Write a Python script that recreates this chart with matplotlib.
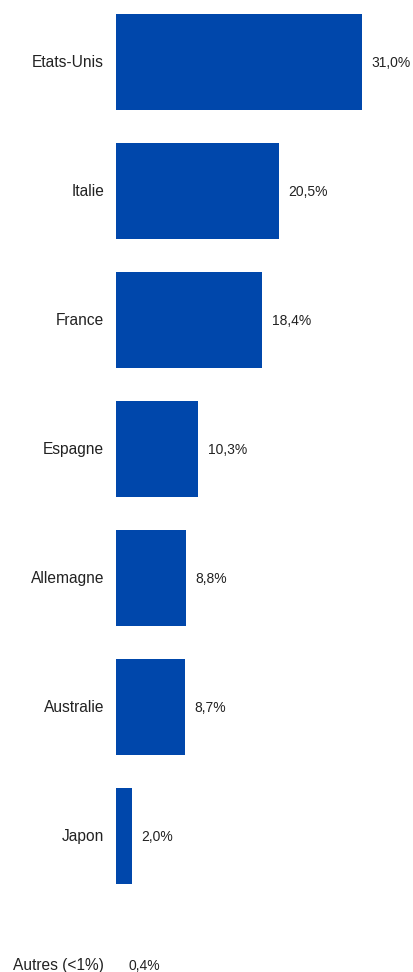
import matplotlib
matplotlib.use("Agg")
import matplotlib.pyplot as plt

plt.rcParams['font.family'] = ['Liberation Sans', 'DejaVu Sans']

pays = ["Etats-Unis", "Italie", "France", "Espagne", "Allemagne",
        "Australie", "Japon", "Autres (<1%)"]
parts = [31.0, 20.5, 18.4, 10.3, 8.8, 8.7, 2.0, 0.4]

W, H = 413, 972
fig = plt.figure(figsize=(W / 100, H / 100), dpi=100)
# plot area: starts at x=116px, rows every 129px from y=62px, cut before the last row
ax = fig.add_axes([116 / W, 1 - 905 / H, (W - 116) / W, 905 / H])

pos = list(range(len(pays)))
ax.barh(pos, parts, height=0.745, color="#0047AB")
ax.set_xlim(0, (W - 116) / 7.94)
ax.set_ylim((905 - 62) / 129, -62 / 129)

for i, (p, v) in enumerate(zip(pays, parts)):
    ax.annotate(p, xy=(0, i), xytext=(-8.6, -0.6), textcoords="offset points",
                ha="right", va="center", fontsize=11.2, color="#222222",
                annotation_clip=False)
    ax.annotate(f"{v:.1f}%".replace(".", ","), xy=(v, i), xytext=(7, -0.6),
                textcoords="offset points", ha="left", va="center",
                fontsize=10, color="#222222", annotation_clip=False)

ax.axis("off")
fig.savefig("out.png", dpi=100)
